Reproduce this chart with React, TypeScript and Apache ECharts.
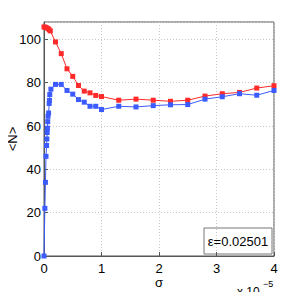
import React, { useEffect, useRef } from "react";
import * as echarts from "echarts";

const xTicks = [0, 1, 2, 3, 4];
const yTicks = [0, 20, 40, 60, 80, 100];

const redSigma = [0, 0.02, 0.04, 0.07, 0.09, 0.11, 0.2, 0.3, 0.4, 0.5, 0.6, 0.7, 0.8, 0.9, 1.0, 1.3, 1.6, 1.9, 2.2, 2.5, 2.8, 3.1, 3.4, 3.7, 4.0];
const redN = [105.7, 105.6, 105.4, 105.0, 104.4, 103.9, 98.8, 93.4, 86.4, 82.9, 78.7, 76.1, 75.3, 74.1, 73.6, 71.9, 72.4, 71.9, 71.4, 71.9, 73.8, 74.9, 75.5, 77.5, 78.6];

const blueSigma = [0, 0.015, 0.025, 0.035, 0.045, 0.05, 0.055, 0.06, 0.065, 0.07, 0.08, 0.09, 0.095, 0.1, 0.12, 0.2, 0.3, 0.4, 0.5, 0.6, 0.7, 0.8, 0.9, 1.0, 1.3, 1.6, 1.9, 2.2, 2.5, 2.8, 3.1, 3.4, 3.7, 4.0];
const blueN = [0, 22, 34, 46, 51, 54, 57, 59, 62, 64.5, 66, 70.4, 71.8, 74.5, 77, 79.2, 79.2, 76.4, 74.7, 72.2, 71.0, 69.1, 69.1, 67.6, 69.1, 68.8, 69.4, 69.8, 69.9, 72.4, 73.5, 74.9, 74.2, 76.4];

const epsLabel = "ε=0.02501";
const xLabel = "σ";
const yLabel = "<N>";
const scaleBase = "x 10";
const scaleExp = "−5";

export default function App() {
  const ref = useRef<HTMLDivElement>(null);
  useEffect(() => {
    const chart = echarts.init(ref.current!, null, { renderer: "svg" });
    const font = "'Liberation Sans', Arial, sans-serif";
    const red = redSigma.map((s, i) => [s, redN[i]]);
    const blue = blueSigma.map((s, i) => [s, blueN[i]]);
    chart.setOption({
      animation: false,
      backgroundColor: "#ffffff",
      grid: {
        left: 44,
        right: 26,
        top: 22,
        bottom: 44,
        show: true,
        borderColor: "#555",
        borderWidth: 1,
      },
      xAxis: {
        type: "value",
        min: xTicks[0],
        max: xTicks[xTicks.length - 1],
        interval: 1,
        axisLine: { lineStyle: { color: "#555" } },
        axisTick: { inside: true, length: 4, lineStyle: { color: "#555" } },
        axisLabel: { color: "#000", fontSize: 13, fontFamily: font, margin: 6 },
        splitLine: { show: true, lineStyle: { color: "#c8c8c8", type: [1, 2] } },
      },
      yAxis: {
        type: "value",
        min: 0,
        max: 108,
        interval: 20,
        axisLine: { show: true, lineStyle: { color: "#555" } },
        axisTick: { show: true, inside: true, length: 4, lineStyle: { color: "#555" } },
        axisLabel: {
          color: "#000",
          fontSize: 13,
          fontFamily: font,
          margin: 3,
          showMaxLabel: false,
          formatter: (v: number) => (yTicks.includes(v) ? String(v) : ""),
        },
        splitLine: { show: true, lineStyle: { color: "#c8c8c8", type: [1, 2] } },
      },
      series: [
        {
          type: "line",
          data: red,
          symbol: "rect",
          symbolSize: 5,
          lineStyle: { color: "#ff2a2a", width: 1 },
          itemStyle: { color: "#ff2a2a" },
        },
        {
          type: "line",
          data: blue,
          symbol: "rect",
          symbolSize: 5,
          lineStyle: { color: "#3b5bff", width: 1 },
          itemStyle: { color: "#3b5bff" },
        },
      ],
      graphic: [
        {
          type: "text",
          x: 159,
          y: 276,
          style: { text: xLabel, fontSize: 13, fontFamily: font, fill: "#000", align: "center" },
        },
        {
          type: "text",
          x: 12,
          y: 139,
          rotation: Math.PI / 2,
          style: {
            text: yLabel,
            fontSize: 13,
            fontFamily: font,
            fill: "#000",
            align: "center",
            verticalAlign: "middle",
          },
        },
        {
          type: "text",
          x: 237,
          y: 292,
          style: {
            text: scaleBase,
            fontSize: 12,
            fontFamily: font,
            fill: "#000",
            align: "left",
            verticalAlign: "middle",
          },
        },
        {
          type: "text",
          x: 263,
          y: 284,
          style: {
            text: scaleExp,
            fontSize: 9,
            fontFamily: font,
            fill: "#000",
            align: "left",
            verticalAlign: "middle",
          },
        },
        {
          type: "rect",
          shape: { x: 204, y: 228, width: 68, height: 26 },
          style: { fill: "#fff", stroke: "#777", lineWidth: 1 },
        },
        {
          type: "text",
          x: 238,
          y: 241,
          style: {
            text: epsLabel,
            fontSize: 13,
            fontFamily: font,
            fill: "#000",
            align: "center",
            verticalAlign: "middle",
          },
        },
      ],
    });
    return () => chart.dispose();
  }, []);
  return <div ref={ref} style={{ width: 300, height: 300, margin: -8 }} />;
}
